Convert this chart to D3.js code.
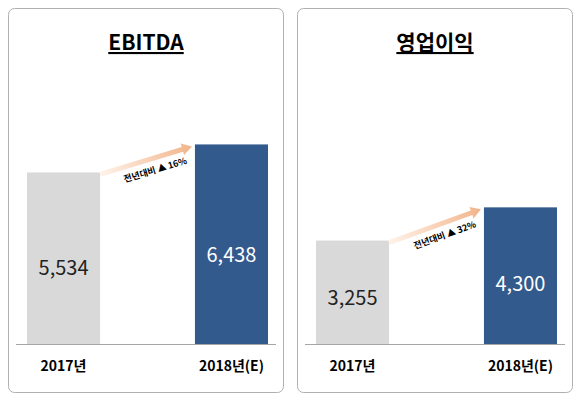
<!DOCTYPE html><html><head><meta charset="utf-8"><script src="https://d3js.org/d3.v7.min.js"></script>
<style>body{margin:0;background:#fff}</style></head><body><svg id="c" width="580" height="404"></svg>
<script>
const categories=["2017년","2018년(E)"];
const ebitda=[5534,6438];
const op=[3255,4300];
const titles=["EBITDA","영업이익"];
const growth=["전년대비 ▲ 16%","전년대비 ▲ 32%"];
const svg=d3.select("#c");
const defs=svg.append("defs");
const g=defs.append("linearGradient").attr("id","ag");
g.append("stop").attr("offset","0").attr("stop-color","#fff3ea");
g.append("stop").attr("offset","1").attr("stop-color","#f2b48a");
const panels=[{x:8,w:276,vals:ebitda,max:7000,top:127},{x:297,w:276,vals:op,max:4500,top:201}];
panels.forEach((p,i)=>{
 const G=svg.append("g").attr("transform",`translate(${p.x},0)`);
 G.append("rect").attr("x",0.5).attr("y",8.5).attr("width",p.w-1).attr("height",384).attr("rx",6).attr("fill","#fff").attr("stroke","#b0b0b0");
 const x=d3.scaleBand().domain(categories).range([19,p.w-16]).paddingInner(0.565).paddingOuter(0);
 const y=d3.scaleLinear().domain([0,p.max]).range([344,p.top]);
 G.append("text").attr("x",p.w/2).attr("y",50).attr("text-anchor","middle").attr("font-family","Noto Sans CJK KR").attr("font-weight","bold").attr("font-size",21).attr("text-decoration","underline").text(titles[i]);
 G.selectAll(".b").data(p.vals).join("rect").attr("x",(d,j)=>x(categories[j])).attr("width",x.bandwidth()).attr("y",d=>y(d)).attr("height",d=>344-y(d)).attr("fill",(d,j)=>j?"#325a8c":"#d9d9d9");
 G.selectAll(".v").data(p.vals).join("text").attr("x",(d,j)=>x(categories[j])+x.bandwidth()/2).attr("y",d=>y(d)+(344-y(d))*0.55+8).attr("text-anchor","middle").attr("font-family","Noto Sans CJK KR").attr("font-size",20).attr("fill",(d,j)=>j?"#fff":"#222").text(d=>d3.format(",")(d));
 G.append("line").attr("x1",8).attr("x2",p.w-8).attr("y1",344.5).attr("y2",344.5).attr("stroke","#a6a6a6");
 G.selectAll(".c").data(categories).join("text").attr("x",d=>x(d)+x.bandwidth()/2).attr("y",371).attr("text-anchor","middle").attr("font-family","Noto Sans CJK KR").attr("font-weight","bold").attr("font-size",14).text(d=>d);
 const x1=x(categories[0])+x.bandwidth(), y1=y(p.vals[0])+2, x2=x(categories[1])-3, y2=y(p.vals[1])+2;
 const ang=Math.atan2(y2-y1,x2-x1)*180/Math.PI, len=Math.hypot(x2-x1,y2-y1);
 const A=G.append("g").attr("transform",`translate(${x1},${y1}) rotate(${ang})`);
 A.append("path").attr("d",`M0,-2.5 L${len-10},-2.5 L${len-10},-6 L${len},0 L${len-10},6 L${len-10},2.5 L0,2.5Z`).attr("fill","url(#ag)");
 A.append("text").attr("x",len/2+6).attr("y",15).attr("text-anchor","middle").attr("font-family","Noto Sans CJK KR").attr("font-weight","bold").attr("font-size",9).text(growth[i]);
});
</script></body></html>
